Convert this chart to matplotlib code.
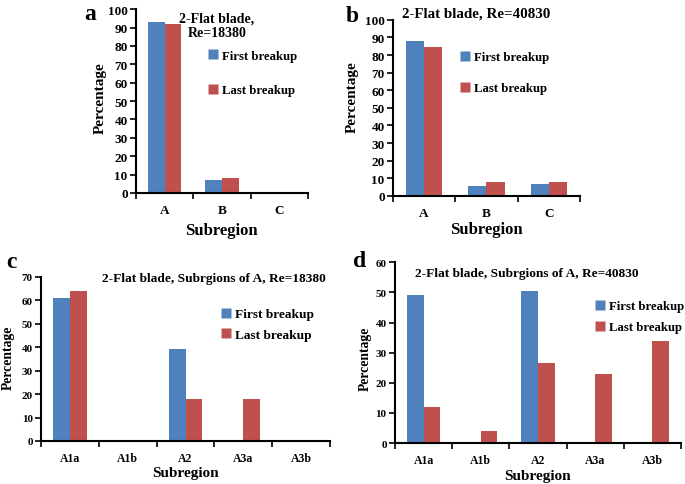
import numpy as np
import matplotlib
matplotlib.use('Agg')
import matplotlib.pyplot as plt
from matplotlib.lines import Line2D

plt.rcParams['font.family'] = 'Liberation Serif'
plt.rcParams['font.weight'] = 'bold'

# data
cats_ab = ['A', 'B', 'C']
first_a = [93, 7, 0]
last_a = [92, 8.2, 0]
first_b = [88, 5.5, 7]
last_b = [84.8, 7.8, 7.8]

cats_cd = ['A1a', 'A1b', 'A2', 'A3a', 'A3b']
first_c = [61, 0, 39, 0, 0]
last_c = [64, 0, 18, 18, 0]
first_d = [49, 0, 50.6, 0, 0]
last_d = [12, 4, 26.6, 23, 34]

BLUE = '#4F81BD'
RED = '#C0504D'


def bar_panel(ax, cats, first, last, ymax, ystep, ytick_fs, xtick_fs,
              ylab_fs, xlab_fs, ylab_pos, xlab_pos):
    x = np.arange(len(cats))
    w = 0.29
    ax.bar(x - w / 2, first, w, color=BLUE, edgecolor='none')
    ax.bar(x + w / 2, last, w, color=RED, edgecolor='none')
    ax.set_xlim(-0.5, len(cats) - 0.5)
    ax.set_ylim(0, ymax)
    ax.set_yticks(np.arange(0, ymax + 1, ystep))
    ax.set_xticks(x)
    ax.set_xticklabels(cats)
    ax.set_xticks(np.arange(-0.5, len(cats)), minor=True)
    ax.tick_params(axis='x', which='major', length=0, pad=8, labelsize=xtick_fs)
    ax.tick_params(axis='x', which='minor', length=4, width=1.2, direction='out')
    ax.tick_params(axis='y', length=4, width=1.2, direction='out', labelsize=ytick_fs, pad=2)
    for s in ['top', 'right']:
        ax.spines[s].set_visible(False)
    for s in ['left', 'bottom']:
        ax.spines[s].set_linewidth(1.5)
    ax.set_ylabel('Percentage', fontsize=ylab_fs, fontweight='bold', va='center')
    ax.set_xlabel('Subregion', fontsize=xlab_fs, fontweight='bold', va='center')
    ax.yaxis.set_label_coords(*ylab_pos)
    ax.xaxis.set_label_coords(*xlab_pos)
    for lbl in ax.get_xticklabels() + ax.get_yticklabels():
        lbl.set_fontweight('bold')


def add_legend(ax, loc, fs, spacing):
    handles = [Line2D([], [], marker='s', color='none', markerfacecolor=BLUE,
                      markeredgecolor='none', markersize=7),
               Line2D([], [], marker='s', color='none', markerfacecolor=RED,
                      markeredgecolor='none', markersize=7)]
    ax.legend(handles, ['First breakup', 'Last breakup'], loc='upper left',
              bbox_to_anchor=loc, frameon=False, prop={'size': fs, 'weight': 'bold'},
              handlelength=0.8, handletextpad=0.3, labelspacing=spacing,
              borderpad=0, borderaxespad=0)


fig = plt.figure(figsize=(6.85, 4.85), dpi=100)

ax_a = fig.add_axes([0.1985, 0.600, 0.251, 0.379])
bar_panel(ax_a, cats_ab, first_a, last_a, 100, 10, 9.5, 9.5, 11, 12,
          (-0.205, 0.524), (0.497, -0.2))
ax_a.text(0.47, 0.99, '2-Flat blade,\nRe=18380', transform=ax_a.transAxes,
          ha='center', va='top', fontsize=10, fontweight='bold', linespacing=1.15)
add_legend(ax_a, (0.42, 0.78), 9.2, 1.75)

ax_b = fig.add_axes([0.5737, 0.594, 0.273, 0.363])
bar_panel(ax_b, cats_ab, first_b, last_b, 100, 10, 9.5, 9.5, 11, 12,
          (-0.219, 0.565), (0.5, -0.19))
ax_b.text(0.05, 1.04, '2-Flat blade, Re=40830', transform=ax_b.transAxes,
          ha='left', va='center', fontsize=10.8, fontweight='bold')
add_legend(ax_b, (0.36, 0.823), 9.2, 1.5)

ax_c = fig.add_axes([0.0599, 0.0887, 0.422, 0.3388])
bar_panel(ax_c, cats_cd, first_c, last_c, 70, 10, 8, 8.5, 9.8, 11,
          (-0.114, 0.51), (0.5, -0.19))
ax_c.text(0.985, 0.99, '2-Flat blade, Subrgions of A, Re=18380', transform=ax_c.transAxes,
          ha='right', va='center', fontsize=9.6, fontweight='bold')
add_legend(ax_c, (0.62, 0.81), 9.6, 0.6)

ax_d = fig.add_axes([0.5766, 0.0845, 0.4175, 0.3726])
bar_panel(ax_d, cats_cd, first_d, last_d, 60, 10, 8, 8.5, 9.8, 11,
          (-0.105, 0.47), (0.5, -0.18))
ax_d.text(0.07, 0.94, '2-Flat blade, Subrgions of A, Re=40830', transform=ax_d.transAxes,
          ha='left', va='center', fontsize=9.6, fontweight='bold')
add_legend(ax_d, (0.70, 0.79), 9.2, 0.7)

# panel letters
fig.text(90 / 685, 1 - 15 / 485, 'a', fontsize=17, fontweight='bold', ha='center', va='center')
fig.text(352 / 685, 1 - 17 / 485, 'b', fontsize=17, fontweight='bold', ha='center', va='center')
fig.text(11 / 685, 1 - 263 / 485, 'c', fontsize=17, fontweight='bold', ha='center', va='center')
fig.text(360 / 685, 1 - 262 / 485, 'd', fontsize=17, fontweight='bold', ha='center', va='center')

fig.savefig('out.png', dpi=100)
